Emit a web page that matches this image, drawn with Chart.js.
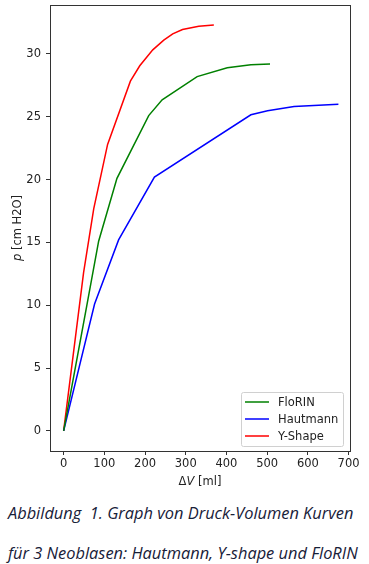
<!DOCTYPE html>
<html>
<head>
<meta charset="utf-8">
<script src="https://cdn.jsdelivr.net/npm/chart.js@4.4.1/dist/chart.umd.min.js"></script>
<style>
  body { margin: 0; background: #fff; width: 369px; height: 564px; overflow: hidden; }
  #wrap { position: relative; width: 369px; height: 490px; }
  .cap { position: absolute; left: 8px; margin: 0; font-family: "Open Sans", sans-serif; font-style: italic;
         font-size: 16.4px; color: #172038; white-space: nowrap; }
</style>
</head>
<body>
<div id="wrap"><canvas id="grafica" width="369" height="490"></canvas></div>
<p class="cap" style="top:501px">Abbildung&nbsp; 1. Graph von Druck-Volumen Kurven</p>
<p class="cap" style="top:541px">für 3 Neoblasen: Hautmann, Y-shape und FloRIN</p>
<script>
// Volumen (ml) und Druck (cm H2O) pro Neoblase
const florinV = [0, 57, 86, 131, 209, 242, 328, 402, 460, 507]
const florinP = [0, 10.0, 15.1, 20.1, 25.1, 26.35, 28.2, 28.9, 29.14, 29.2]
const hautmannV = [0, 76, 135, 223, 460, 501, 566, 675]
const hautmannP = [0, 10.1, 15.2, 20.2, 25.16, 25.48, 25.83, 26.0]
const yshapeV = [0, 49, 74, 108, 164, 187, 219, 246, 268, 292, 332, 369]
const yshapeP = [0, 12.6, 17.7, 22.8, 27.84, 29.06, 30.33, 31.1, 31.6, 31.95, 32.2, 32.3]
const xTicks = [0, 100, 200, 300, 400, 500, 600, 700]
const yTicks = [0, 5, 10, 15, 20, 25, 30]

function punkte(vs, ps) {
  return vs.map((v, i) => ({ x: v, y: ps[i] }))
}

const achse = '#333'
const schrift = { family: "'DejaVu Sans'", size: 11.5 }

// Text mit kursivem und normalem Teil nebeneinander zeichnen
function gemischt(ctx, teile, cx, cy) {
  let breite = 0
  teile.forEach(t => { ctx.font = (t[1] ? 'italic ' : '') + "11.5px 'DejaVu Sans'"; breite += ctx.measureText(t[0]).width })
  let x = cx - breite / 2
  teile.forEach(t => {
    ctx.font = (t[1] ? 'italic ' : '') + "11.5px 'DejaVu Sans'"
    ctx.fillText(t[0], x, cy)
    x += ctx.measureText(t[0]).width
  })
}

const rahmen = {
  id: 'rahmen',
  afterDraw(chart) {
    const ctx = chart.ctx
    const a = chart.chartArea
    ctx.save()
    ctx.strokeStyle = achse
    ctx.lineWidth = 1
    ctx.strokeRect(Math.round(a.left) + 0.5, Math.round(a.top) + 0.5, Math.round(a.right - a.left), Math.round(a.bottom - a.top))
    // Achsentitel
    ctx.fillStyle = '#222'
    ctx.textBaseline = 'middle'
    ctx.textAlign = 'left'
    gemischt(ctx, [['Δ', false], ['V', true], [' [ml]', false]], (a.left + a.right) / 2, a.bottom + 31)
    ctx.save()
    ctx.translate(18, (a.top + a.bottom) / 2)
    ctx.rotate(-Math.PI / 2)
    gemischt(ctx, [['p', true], [' [cm H2O]', false]], 0, 0)
    ctx.restore()
    // Legende unten rechts im Plot
    const sets = chart.data.datasets
    const bw = 102, bh = 54
    const bx = a.right - 7 - bw, by = a.bottom - 5 - bh
    ctx.fillStyle = 'rgba(255,255,255,0.85)'
    ctx.strokeStyle = '#d0d0d0'
    ctx.beginPath()
    ctx.roundRect(bx + 0.5, by + 0.5, bw, bh, 2)
    ctx.fill()
    ctx.stroke()
    ctx.font = "11.5px 'DejaVu Sans'"
    sets.forEach((d, i) => {
      const y = by + 10 + i * 17
      ctx.strokeStyle = d.borderColor
      ctx.lineWidth = 1.5
      ctx.beginPath()
      ctx.moveTo(bx + 4, y)
      ctx.lineTo(bx + 28, y)
      ctx.stroke()
      ctx.fillStyle = '#222'
      ctx.fillText(d.label, bx + 37, y + 1)
    })
    ctx.restore()
  }
}

new Chart(document.getElementById('grafica'), {
  type: 'line',
  data: {
    datasets: [
      { label: 'FloRIN', data: punkte(florinV, florinP), borderColor: '#008000' },
      { label: 'Hautmann', data: punkte(hautmannV, hautmannP), borderColor: '#0000ff' },
      { label: 'Y-Shape', data: punkte(yshapeV, yshapeP), borderColor: '#ff0000' }
    ]
  },
  options: {
    responsive: false,
    animation: false,
    layout: { padding: { top: 5, right: 19, left: 0, bottom: 0 } },
    elements: { point: { radius: 0 }, line: { borderWidth: 1.5, tension: 0 } },
    plugins: { legend: { display: false }, tooltip: { enabled: false } },
    scales: {
      x: {
        type: 'linear', min: -33.5, max: 703.5,
        afterBuildTicks: s => { s.ticks = xTicks.map(v => ({ value: v })) },
        afterFit: s => { s.height = 39; s.paddingLeft = 0; s.paddingRight = 0 },
        grid: { drawOnChartArea: false, tickLength: 4, color: achse },
        border: { color: achse },
        ticks: { color: '#222', font: schrift, padding: 2, maxRotation: 0 }
      },
      y: {
        type: 'linear', min: -1.6, max: 33.9,
        afterBuildTicks: s => { s.ticks = yTicks.map(v => ({ value: v })) },
        afterFit: s => { s.width = 50; s.paddingTop = 0; s.paddingBottom = 0 },
        grid: { drawOnChartArea: false, tickLength: 4, color: achse },
        border: { color: achse },
        ticks: { color: '#222', font: schrift, padding: 5 }
      }
    }
  },
  plugins: [rahmen]
})
</script>
</body>
</html>
